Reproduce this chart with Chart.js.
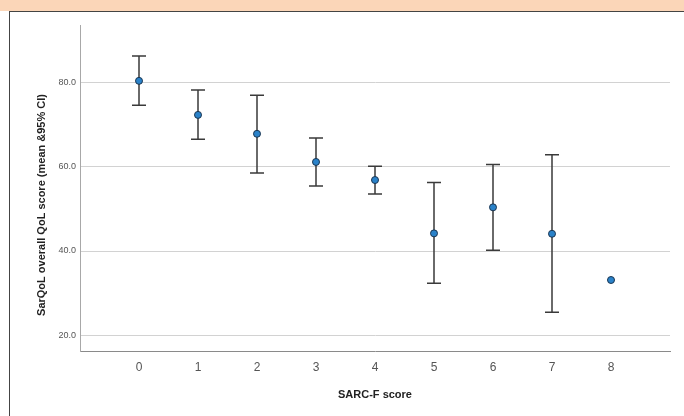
<!DOCTYPE html>
<html>
<head>
<meta charset="utf-8">
<script src="https://cdn.jsdelivr.net/npm/chart.js@4"></script>
<style>
  html, body { margin: 0; padding: 0; background: #fff; }
  #band { position: absolute; left: 0; top: 0; width: 684px; height: 11px; background: #fbd6b8; }
  #frame { position: absolute; left: 9px; top: 11px; width: 700px; height: 420px;
           border-left: 1px solid #444; border-top: 1px solid #444; }
  #wrap { position: absolute; left: 0; top: 0; width: 684px; height: 416px; }
</style>
</head>
<body>
<div id="band"></div>
<div id="frame"></div>
<div id="wrap"><canvas id="chart" width="684" height="416"></canvas></div>
<script>
const scores = [0, 1, 2, 3, 4, 5, 6, 7, 8];
const means = [80.5, 72.4, 67.9, 61.2, 56.9, 44.2, 50.4, 44.1, 33.1];
const lower = [74.7, 66.6, 58.6, 55.5, 53.6, 32.3, 40.2, 25.4, null];
const upper = [86.4, 78.3, 77.1, 66.9, 60.2, 56.3, 60.6, 62.9, null];
const yTicks = [20, 40, 60, 80];
const yTitle = 'SarQoL overall QoL score (mean &95% CI)';

// draw the 95% CI whiskers under the points
const errorBars = {
  id: 'errorBars',
  beforeDatasetsDraw(chart) {
    const { ctx, scales: { x, y } } = chart;
    ctx.save();
    ctx.strokeStyle = '#3a3a3a';
    ctx.lineWidth = 1.5;
    scores.forEach((s, i) => {
      if (lower[i] == null) return;
      const px = x.getPixelForValue(s);
      const top = y.getPixelForValue(upper[i]);
      const bot = y.getPixelForValue(lower[i]);
      ctx.beginPath();
      ctx.moveTo(px, top); ctx.lineTo(px, bot);
      ctx.moveTo(px - 7, top); ctx.lineTo(px + 7, top);
      ctx.moveTo(px - 7, bot); ctx.lineTo(px + 7, bot);
      ctx.stroke();
    });
    ctx.restore();
  }
};

// y title sits a bit lower than the plot centre in the original
const yTitlePlugin = {
  id: 'yTitle',
  afterDraw(chart) {
    const { ctx, chartArea } = chart;
    ctx.save();
    ctx.translate(42, (chartArea.top + chartArea.bottom) / 2 + 17);
    ctx.rotate(-Math.PI / 2);
    ctx.font = 'bold 11px Arial, "Liberation Sans"';
    ctx.fillStyle = '#222';
    ctx.textAlign = 'center';
    ctx.textBaseline = 'middle';
    ctx.fillText(yTitle, 0, 0);
    ctx.restore();
  }
};

new Chart(document.getElementById('chart'), {
  type: 'scatter',
  data: {
    datasets: [{
      data: scores.map((s, i) => ({ x: s, y: means[i] })),
      backgroundColor: '#2a82c9',
      borderColor: '#1b3550',
      borderWidth: 1,
      pointRadius: 3.5
    }]
  },
  options: {
    responsive: false,
    animation: false,
    layout: { padding: { left: 0, top: 25, right: 14, bottom: 0 } },
    plugins: { legend: { display: false }, tooltip: { enabled: false } },
    scales: {
      x: {
        type: 'linear',
        min: -1,
        max: 9,
        afterBuildTicks: s => { s.ticks = scores.map(v => ({ value: v })); },
        afterFit: s => { s.height = 65; },
        grid: { display: false, drawTicks: false },
        border: { display: true, color: '#8a8a8a', width: 1 },
        ticks: { padding: 9, color: '#555', font: { family: 'Arial, Liberation Sans', size: 12 } },
        title: {
          display: true,
          text: 'SARC-F score',
          color: '#222',
          padding: { top: 0, bottom: 14 },
          font: { family: 'Arial, Liberation Sans', size: 11, weight: 'bold' }
        }
      },
      y: {
        min: 16.2,
        max: 93.8,
        afterBuildTicks: s => { s.ticks = yTicks.map(v => ({ value: v })); },
        afterFit: s => { s.width = 80; },
        grid: { color: '#d2d2d2', lineWidth: 1, drawTicks: false },
        border: { display: true, color: '#a8a8a8', width: 1 },
        ticks: {
          padding: 4,
          color: '#555',
          font: { family: 'Arial, Liberation Sans', size: 9 },
          callback: v => v.toFixed(1)
        },
        title: { display: false }
      }
    }
  },
  plugins: [errorBars, yTitlePlugin]
});
</script>
</body>
</html>
